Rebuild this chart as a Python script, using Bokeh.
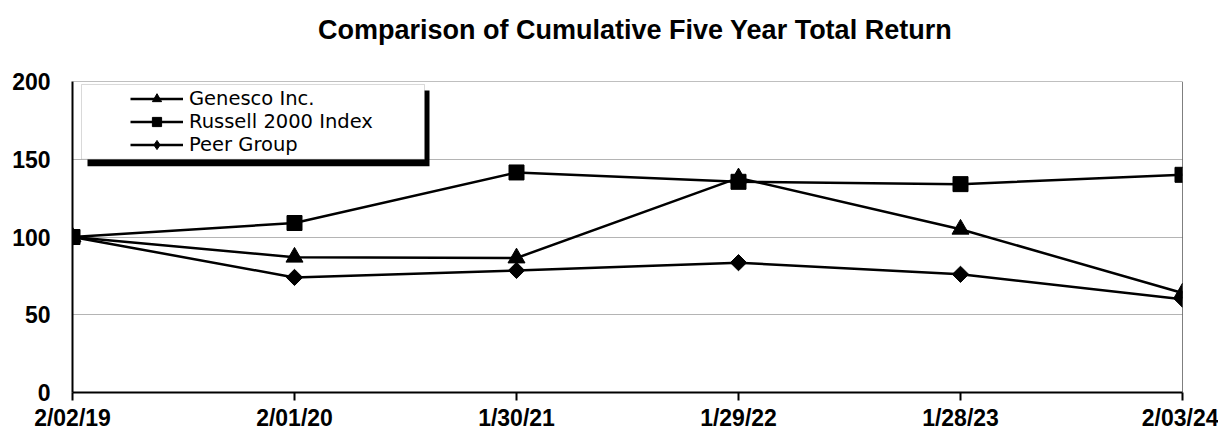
import numpy as np
from bokeh.plotting import figure
from bokeh.layouts import column
from bokeh.models import (FixedTicker, Span, BoxAnnotation, Legend, LegendItem,
                          Range1d, ColumnDataSource, Div)
from bokeh.embed import file_html
from bokeh.resources import INLINE

# ---- data ----
dates = ["2/02/19", "2/01/20", "1/30/21", "1/29/22", "1/28/23", "2/03/24"]
genesco = [100, 87, 86.5, 138, 105, 64]
russell = [100, 109, 141.5, 135.5, 134, 140]
peer = [100, 74, 78.5, 83.5, 76, 60]
y_ticks = [0, 50, 100, 150, 200]
title_text = "Comparison of Cumulative Five Year Total Return"
series_names = ["Genesco Inc.", "Russell 2000 Index", "Peer Group"]

xs = list(range(len(dates)))

FONT = "Liberation Sans"
W = 1218
TITLE_H = 48
H = 433 - TITLE_H
ML, MR, MT, MB = 72, 36, 81 - TITLE_H, 40
FW, FH = W - ML - MR, H - MT - MB
YMAX = 200
px_x = (len(dates) - 1) / FW
px_y = YMAX / FH

title = Div(text=title_text, width=W, height=TITLE_H,
            styles={"font-family": FONT, "font-size": "27px", "font-weight": "bold",
                    "color": "black", "line-height": "31px", "white-space": "nowrap",
                    "padding-left": "318px", "padding-top": "15px",
                    "box-sizing": "border-box", "margin": "0"})

p = figure(width=W, height=H, output_backend="svg", toolbar_location=None,
           x_range=Range1d(0, len(dates) - 1), y_range=Range1d(0, YMAX),
           min_border_left=ML, min_border_right=MR, min_border_top=MT,
           min_border_bottom=MB, background_fill_color="white",
           border_fill_color="white")
p.outline_line_color = None

# grid
p.xgrid.visible = False
p.ygrid.ticker = FixedTicker(ticks=y_ticks)
p.ygrid.grid_line_color = "#b4b4b4"
p.ygrid.grid_line_width = 1

# axes
p.yaxis.ticker = FixedTicker(ticks=y_ticks)
p.yaxis.axis_line_width = 2
p.yaxis.axis_line_color = "black"
p.yaxis.major_tick_out = 0
p.yaxis.major_tick_in = 0
p.yaxis.minor_tick_out = 0
p.yaxis.minor_tick_in = 0
p.yaxis.major_label_standoff = 22
p.yaxis.major_label_text_font = FONT
p.yaxis.major_label_text_font_size = "23px"
p.yaxis.major_label_text_font_style = "bold"
p.yaxis.major_label_text_color = "black"

p.xaxis.ticker = FixedTicker(ticks=xs)
p.xaxis.major_label_overrides = {i: d for i, d in zip(xs, dates)}
p.xaxis.axis_line_width = 2
p.xaxis.axis_line_color = "black"
p.xaxis.major_tick_out = 8
p.xaxis.major_tick_in = 0
p.xaxis.major_tick_line_width = 2
p.xaxis.minor_tick_out = 0
p.xaxis.minor_tick_in = 0
p.xaxis.major_label_standoff = 4
p.xaxis.major_label_text_font = FONT
p.xaxis.major_label_text_font_size = "23px"
p.xaxis.major_label_text_font_style = "bold"
p.xaxis.major_label_text_color = "black"

# top and right frame lines
p.add_layout(Span(location=YMAX, dimension="width", line_color="#808080", line_width=1))
p.add_layout(Span(location=len(dates) - 1, dimension="height", line_color="black", line_width=1))

# legend box with shadow (positions derived from pixel offsets)
p.add_layout(BoxAnnotation(left=15 * px_x, right=357 * px_x, top=YMAX - 9 * px_y,
                           bottom=YMAX - 85 * px_y, fill_color="black", fill_alpha=1,
                           line_color=None, level="overlay"))
p.add_layout(BoxAnnotation(left=9 * px_x, right=352 * px_x, top=YMAX - 3 * px_y,
                           bottom=YMAX - 78 * px_y, fill_color="white", fill_alpha=1,
                           line_color="#808080", line_width=1, level="overlay"))

src = ColumnDataSource(dict(x=xs, g=genesco, r=russell, pg=peer))

LW = 2.5
lg = p.line("x", "g", source=src, line_color="black", line_width=LW)
mg = p.scatter("x", "g", source=src, marker="triangle", size=17, color="black")
lr = p.line("x", "r", source=src, line_color="black", line_width=LW)
mr = p.scatter("x", "r", source=src, marker="square", size=15, color="black")
lp = p.line("x", "pg", source=src, line_color="black", line_width=LW)
mp = p.scatter("x", "pg", source=src, marker="square", angle=np.pi / 4, size=11.5, color="black")
# legend-only diamond glyph (hidden on plot; legend keeps the diamond shape)
mp_leg = p.scatter("x", "pg", source=src, marker="diamond", size=16, color="black")
mp_leg.visible = False

ROW = 23
legend = Legend(items=[LegendItem(label=series_names[0], renderers=[lg, mg]),
                       LegendItem(label=series_names[1], renderers=[lr, mr]),
                       LegendItem(label=series_names[2], renderers=[lp, mp_leg])],
                location=(58, FH - 7 - 3 * ROW), margin=0, padding=0, spacing=0,
                glyph_width=53, glyph_height=ROW, label_height=ROW,
                label_standoff=6, label_text_font="DejaVu Sans",
                label_text_font_size="19.5px", label_text_color="black",
                border_line_color=None, background_fill_alpha=0,
                level="overlay")
p.add_layout(legend)

layout = column(title, p, spacing=0)
open("out.html", "w").write(file_html(layout, INLINE))
